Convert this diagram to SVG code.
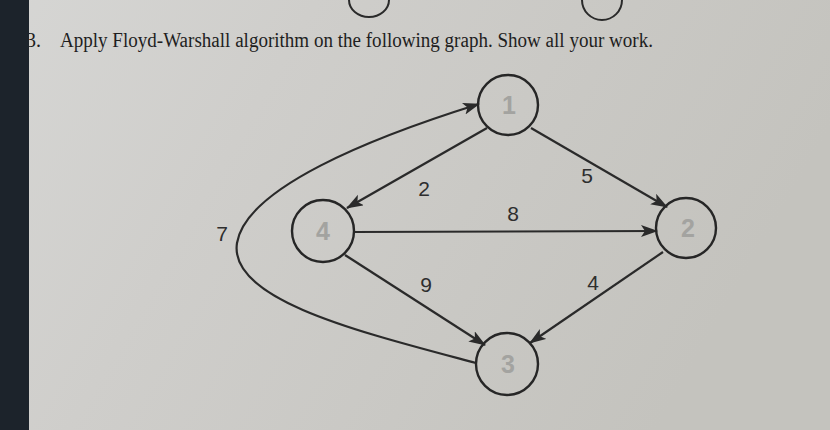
<svg xmlns="http://www.w3.org/2000/svg" width="830" height="430" viewBox="0 0 830 430">
<defs>
<linearGradient id="bg" x1="0" y1="0" x2="1" y2="0.3">
<stop offset="0" stop-color="#d6d6d4"/>
<stop offset="0.35" stop-color="#cfcecb"/>
<stop offset="1" stop-color="#c4c3be"/>
</linearGradient>
<marker id="arr" markerUnits="userSpaceOnUse" markerWidth="18" markerHeight="14" refX="16" refY="6" orient="auto">
<path d="M0,0 L17,6 L0,12 L4,6 z" fill="#2a2a2a"/>
</marker>
<style>
.edge{fill:none;stroke:#2a2a2a;stroke-width:2.2}
.node circle{fill:none;stroke:#262626;stroke-width:2.4}
.nl{font-family:"Liberation Sans",Arial,sans-serif;font-size:25px;font-weight:bold;fill:#a3a3a0;text-anchor:middle}
.el{font-family:"Liberation Sans",Arial,sans-serif;font-size:21px;fill:#2e2e2e;text-anchor:middle}
</style>
</defs>
<rect x="0" y="0" width="830" height="430" fill="url(#bg)"/>
<path d="M349,0 A20,17 0 0 0 389,0" fill="none" stroke="#2a2a2a" stroke-width="2"/>
<path d="M582,0 A20,20 0 0 0 622,0" fill="none" stroke="#2a2a2a" stroke-width="2"/>
<text x="26" y="47" font-family="Liberation Serif, serif" font-size="20" fill="#1e1e1e">3.</text>
<text x="60" y="47" font-family="Liberation Serif, serif" font-size="20" fill="#1e1e1e" textLength="593" lengthAdjust="spacingAndGlyphs">Apply Floyd-Warshall algorithm on the following graph. Show all your work.</text>
<rect x="0" y="0" width="29" height="430" fill="#1c232b"/>
<g id="connectors">
<path class="edge" d="M487,128 L347,208" marker-end="url(#arr)"/>
<path class="edge" d="M531,128 L667,207" marker-end="url(#arr)"/>
<path class="edge" d="M354,232 L657,231" marker-end="url(#arr)"/>
<path class="edge" d="M345,255 L485,345" marker-end="url(#arr)"/>
<path class="edge" d="M663,252 L530,343" marker-end="url(#arr)"/>
<path class="edge" d="M476,363 C360,332 228,300 237,243 C246,188 370,138 479,104" marker-end="url(#arr)"/>
<text class="el" x="424" y="196">2</text>
<text class="el" x="587" y="183">5</text>
<text class="el" x="513" y="221">8</text>
<text class="el" x="426" y="292">9</text>
<text class="el" x="593" y="290">4</text>
<text class="el" x="222" y="241">7</text>
</g>
<g id="node1" class="node"><circle cx="508" cy="105" r="30"/><text class="nl" x="509" y="114">1</text></g>
<g id="node2" class="node"><circle cx="686" cy="228" r="30"/><text class="nl" x="688" y="237">2</text></g>
<g id="node3" class="node"><circle cx="507" cy="364" r="31"/><text class="nl" x="508" y="373">3</text></g>
<g id="node4" class="node"><circle cx="323" cy="231" r="31"/><text class="nl" x="323" y="240">4</text></g>
</svg>
